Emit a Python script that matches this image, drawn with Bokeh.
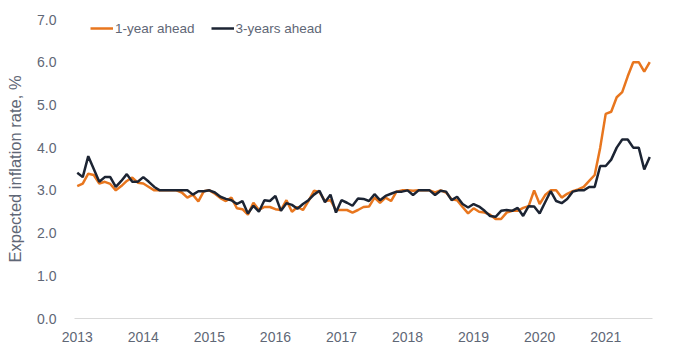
from bokeh.plotting import figure
from bokeh.models import Range1d, FixedTicker, NumeralTickFormatter, Legend, LegendItem
from bokeh.embed import file_html
from bokeh.resources import INLINE

# Monthly survey medians, Jun 2013 .. Feb 2022
one_year = [3.10, 3.16, 3.39, 3.36, 3.16, 3.20, 3.15, 3.00, 3.10, 3.22, 3.30, 3.18,
            3.16, 3.08, 3.00, 3.00, 3.00, 3.00, 3.00, 2.95, 2.83, 2.90, 2.74, 2.98,
            3.00, 2.92, 2.82, 2.75, 2.83, 2.58, 2.56, 2.43, 2.71, 2.54, 2.61, 2.61,
            2.56, 2.54, 2.77, 2.50, 2.61, 2.54, 2.75, 2.99, 2.96, 2.75, 2.77, 2.54,
            2.54, 2.54, 2.48, 2.54, 2.61, 2.62, 2.83, 2.71, 2.83, 2.75, 2.97, 3.00,
            3.00, 2.99, 3.00, 3.00, 3.00, 2.95, 3.00, 2.95, 2.79, 2.77, 2.61, 2.46,
            2.58, 2.50, 2.48, 2.43, 2.33, 2.33, 2.48, 2.52, 2.52, 2.59, 2.63, 3.00,
            2.68, 2.89, 3.00, 3.00, 2.83, 2.92, 2.98, 3.02, 3.08, 3.22, 3.36, 4.00,
            4.79, 4.84, 5.18, 5.30, 5.67, 6.00, 6.00, 5.78, 6.00]
three_year = [3.41, 3.31, 3.80, 3.50, 3.20, 3.31, 3.31, 3.08, 3.22, 3.38, 3.20, 3.20,
              3.31, 3.20, 3.08, 3.00, 3.00, 3.00, 3.00, 3.00, 3.00, 2.90, 2.98, 2.98,
              3.00, 2.95, 2.85, 2.80, 2.77, 2.68, 2.75, 2.46, 2.64, 2.50, 2.77, 2.75,
              2.87, 2.52, 2.70, 2.66, 2.57, 2.68, 2.77, 2.90, 2.99, 2.72, 2.90, 2.48,
              2.77, 2.71, 2.64, 2.81, 2.80, 2.75, 2.91, 2.77, 2.87, 2.92, 2.97, 2.97,
              3.00, 2.89, 3.00, 3.00, 3.00, 2.89, 2.99, 2.97, 2.77, 2.85, 2.68, 2.60,
              2.68, 2.62, 2.52, 2.40, 2.38, 2.52, 2.54, 2.52, 2.59, 2.40, 2.63, 2.62,
              2.46, 2.72, 2.98, 2.75, 2.70, 2.80, 2.97, 3.00, 3.00, 3.08, 3.08, 3.57,
              3.57, 3.72, 4.00, 4.19, 4.19, 4.00, 4.00, 3.49, 3.78]
year_labels = ["2013", "2014", "2015", "2016", "2017", "2018", "2019", "2020", "2021"]
y_ticks = [0, 1, 2, 3, 4, 5, 6, 7]

months = list(range(len(one_year)))
label_pos = [12 * k for k in range(len(year_labels))]

ORANGE = "#E8761E"
DARK = "#1c2433"
TEXT = "#5f6776"
FONT = "Liberation Sans"

p = figure(width=680, height=357, output_backend="svg", toolbar_location=None,
           x_range=Range1d(-0.5, len(one_year) - 0.5), y_range=Range1d(0, 7),
           min_border_left=74, min_border_right=28, min_border_top=19, min_border_bottom=39)
p.outline_line_color = None
p.grid.visible = False
p.background_fill_color = "white"
p.border_fill_color = "white"

r1 = p.line(months, one_year, line_color=ORANGE, line_width=2.5)
r2 = p.line(months, three_year, line_color=DARK, line_width=2.5)

xa = p.xaxis[0]
xa.ticker = FixedTicker(ticks=label_pos)
xa.major_label_overrides = {pos: lab for pos, lab in zip(label_pos, year_labels)}
xa.axis_line_color = "#d9d9d9"
xa.axis_line_width = 1
xa.major_tick_line_color = None
xa.minor_tick_line_color = None
xa.major_label_standoff = 7
xa.major_label_text_font = FONT
xa.major_label_text_font_size = "14px"
xa.major_label_text_color = TEXT

ya = p.yaxis[0]
ya.ticker = FixedTicker(ticks=y_ticks)
ya.formatter = NumeralTickFormatter(format="0.0")
ya.axis_line_color = None
ya.major_tick_line_color = None
ya.minor_tick_line_color = None
ya.major_label_standoff = 12
ya.major_label_text_font = FONT
ya.major_label_text_font_size = "14px"
ya.major_label_text_color = TEXT
ya.axis_label = "Expected inflation rate, %"
ya.axis_label_text_font = FONT
ya.axis_label_text_font_size = "16.5px"
ya.axis_label_text_font_style = "normal"
ya.axis_label_text_color = TEXT
ya.axis_label_standoff = 10

legend = Legend(items=[LegendItem(label="1-year ahead", renderers=[r1]),
                       LegendItem(label="3-years ahead", renderers=[r2])],
                orientation="horizontal", location=(16, 282),
                border_line_color=None, background_fill_alpha=0,
                padding=0, margin=0, spacing=16,
                glyph_width=23, glyph_height=16, label_height=16, label_standoff=2,
                label_text_font=FONT, label_text_font_size="13.5px", label_text_color=TEXT)
p.add_layout(legend)

open("out.html", "w").write(file_html(p, INLINE))
